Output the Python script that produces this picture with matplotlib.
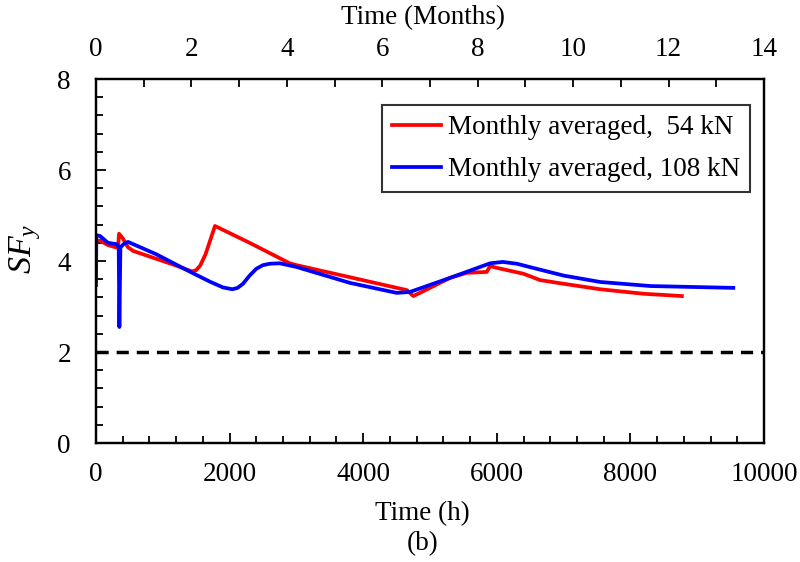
import matplotlib
matplotlib.use("Agg")
import matplotlib.pyplot as plt
from matplotlib.ticker import MultipleLocator

plt.rcParams['font.family'] = ['Liberation Serif', 'DejaVu Serif']
plt.rcParams['mathtext.fontset'] = 'custom'
plt.rcParams['mathtext.rm'] = 'Liberation Serif'
plt.rcParams['mathtext.it'] = 'Liberation Serif:italic'

# Safety factor SF_y versus time, 54 kN load case (monthly averaged)
hours_54 = [0, 60, 180, 300, 330, 345, 400, 480, 560, 900, 1200, 1437, 1500,
            1560, 1640, 1720, 1781, 2300, 2900, 3000, 4655, 4750, 4850, 5300,
            5550, 5850, 5900, 6000, 6400, 6650, 7000, 7545, 8200, 8770]
sf_54 = [4.45, 4.45, 4.35, 4.3, 4.3, 4.6, 4.5, 4.3, 4.22, 4.05, 3.9, 3.77, 3.8,
         3.9, 4.15, 4.5, 4.77, 4.4, 3.95, 3.91, 3.36, 3.23, 3.3, 3.63,
         3.74, 3.76, 3.89, 3.85, 3.72, 3.58, 3.5, 3.38, 3.28, 3.23]

# 108 kN load case (monthly averaged)
hours_108 = [0, 5, 60, 180, 310, 340, 350, 365, 420, 480, 900, 1360, 1700,
             1900, 2040, 2120, 2200, 2300, 2400, 2500, 2600, 2750, 3000, 3800,
             4500, 4700, 5300, 5900, 6090, 6300, 6540, 7000, 7545, 8300, 9540]
sf_108 = [3.47, 4.57, 4.55, 4.4, 4.37, 4.3, 2.55, 4.3, 4.38, 4.42, 4.15, 3.8,
          3.55, 3.42, 3.38, 3.41, 3.5, 3.68, 3.83, 3.91, 3.94, 3.95, 3.87, 3.52,
          3.3, 3.32, 3.63, 3.95, 3.98, 3.94, 3.85, 3.68, 3.54, 3.45, 3.41]

threshold = 2.0
x_limits = [0, 10000]
month_limits = [0, 14]

FS = 19.5

fig = plt.figure(figsize=(8.0, 5.62), dpi=100)
ax = fig.add_axes([0.12, 0.2117, 0.835, 0.6477])

ax.plot(hours_54, sf_54, color='#ff0000', lw=2.7, label='Monthly averaged,  54 kN')
ax.plot(hours_108, sf_108, color='#0000ff', lw=2.7, label='Monthly averaged, 108 kN')
ax.plot(x_limits, [threshold, threshold], color='black', lw=2.5,
        dashes=(3.5, 2.3))

ax.set_xlim(*x_limits)
ax.set_ylim(0, 8)
ax.xaxis.set_major_locator(MultipleLocator(2000))
ax.xaxis.set_minor_locator(MultipleLocator(400))
ax.yaxis.set_major_locator(MultipleLocator(2))
ax.yaxis.set_minor_locator(MultipleLocator(0.4))
ax.tick_params(axis='both', which='both', direction='in', labelsize=FS,
               width=1.3, top=False, right=False)
ax.tick_params(which='major', length=7)
ax.tick_params(which='minor', length=5)
ax.tick_params(axis='x', pad=14)
ax.tick_params(axis='y', pad=18)
for s in ax.spines.values():
    s.set_linewidth(1.6)

# Secondary time axis in months along the top
ax2 = ax.twiny()
ax2.set_xlim(*month_limits)
ax2.xaxis.set_major_locator(MultipleLocator(2))
ax2.xaxis.set_minor_locator(MultipleLocator(1))
ax2.tick_params(axis='x', which='both', direction='in', labelsize=FS,
                width=1.3, length=6, pad=12)
for s in ax2.spines.values():
    s.set_linewidth(1.6)

# Axis titles
fig.text(0.5283, 1 - 18 / 562, 'Time (Months)', ha='center', va='center',
         fontsize=FS)
fig.text(0.5283, 1 - 514 / 562, 'Time (h)', ha='center', va='center',
         fontsize=FS)
fig.text(25 / 800, 1 - 249 / 562, r'$SF_y$', ha='center', va='center',
         rotation=90, fontsize=FS + 5)
fig.text(0.5283, 1 - 544 / 562, '(b)', ha='center', va='center', fontsize=FS)

leg = ax.legend(loc='upper right', bbox_to_anchor=(0.979, 0.9286), fontsize=FS,
                frameon=True, fancybox=False, edgecolor='black',
                handlelength=1.8, handletextpad=0.25, borderpad=0.38,
                labelspacing=0.62, borderaxespad=0.0)
leg.get_frame().set_linewidth(1.5)

fig.savefig('out.png', dpi=100)
